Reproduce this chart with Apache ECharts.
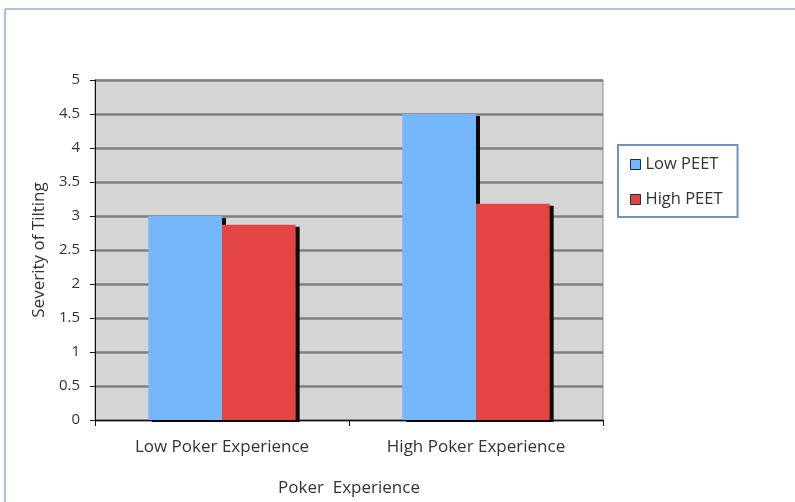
<!DOCTYPE html>
<html>
<head>
<meta charset="utf-8">
<script src="https://cdn.jsdelivr.net/npm/echarts@6/dist/echarts.min.js"></script>
<style>
  html, body { margin: 0; padding: 0; background: #fff; }
  #chart { width: 795px; height: 502px; }
</style>
</head>
<body>
<div id="chart"></div>
<script>
var categories = ["Low Poker Experience", "High Poker Experience"];
var lowPeet = [3.0, 4.5];
var highPeet = [2.87, 3.18];
var yTicks = [0, 0.5, 1, 1.5, 2, 2.5, 3, 3.5, 4, 4.5, 5];

var font = "Open Sans";
var chart = echarts.init(document.getElementById("chart"));

var option = {
  backgroundColor: "#fff",
  textStyle: { fontFamily: font },
  graphic: [
    // frame of the picture (top and left edge)
    { type: "line", shape: { x1: 5, y1: 9, x2: 795, y2: 9 }, style: { stroke: "#a9c3dc", lineWidth: 2 } },
    { type: "line", shape: { x1: 5, y1: 9, x2: 5, y2: 502 }, style: { stroke: "#a9c3dc", lineWidth: 2 } }
  ],
  grid: {
    left: 95,
    right: 192,
    top: 80,
    bottom: 82,
    outerBoundsMode: "none",
    show: true,
    backgroundColor: "#d5d5d5",
    borderColor: "#8a8a8a",
    borderWidth: 1
  },
  legend: {
    orient: "vertical",
    left: 618,
    top: 145,
    padding: [11, 15, 9, 12],
    itemGap: 18,
    itemWidth: 10,
    itemHeight: 10,
    icon: "rect",
    borderColor: "#6b93c6",
    borderWidth: 2,
    itemStyle: { borderColor: "#1d2b44", borderWidth: 1 },
    textStyle: { fontFamily: font, fontSize: 16.5, color: "#333" },
    data: ["Low PEET", "High PEET"]
  },
  xAxis: {
    type: "category",
    data: categories,
    name: "Poker  Experience",
    nameLocation: "middle",
    nameGap: 60,
    nameTextStyle: { fontFamily: font, fontSize: 17, color: "#333" },
    axisLine: { lineStyle: { color: "#111", width: 1 } },
    axisTick: { show: true, length: 6, lineStyle: { color: "#111" } },
    axisLabel: { margin: 19, fontSize: 17, color: "#333", fontFamily: font }
  },
  yAxis: {
    type: "value",
    min: yTicks[0],
    max: yTicks[yTicks.length - 1],
    interval: 0.5,
    name: "Severity of Tilting",
    nameLocation: "middle",
    nameGap: 47,
    nameTextStyle: { fontFamily: font, fontSize: 17, color: "#333" },
    axisLine: { show: true, lineStyle: { color: "#111", width: 1 } },
    axisTick: { show: true, length: 5, lineStyle: { color: "#111" } },
    axisLabel: { margin: 15, fontSize: 15, color: "#333", fontFamily: font },
    splitLine: { lineStyle: { color: "#7f7f7f", width: 2.5 } }
  },
  series: [
    {
      name: "Low PEET",
      type: "bar",
      data: lowPeet,
      barGap: "0%",
      barCategoryGap: "42%",
      itemStyle: {
        color: "#75b7fb",
        shadowColor: "rgba(0,0,0,0.95)",
        shadowOffsetX: 4,
        shadowOffsetY: 2,
        shadowBlur: 0
      }
    },
    {
      name: "High PEET",
      type: "bar",
      data: highPeet,
      itemStyle: {
        color: "#e44444",
        shadowColor: "rgba(0,0,0,0.95)",
        shadowOffsetX: 4,
        shadowOffsetY: 2,
        shadowBlur: 0
      }
    }
  ]
};

chart.setOption(option);
</script>
</body>
</html>
